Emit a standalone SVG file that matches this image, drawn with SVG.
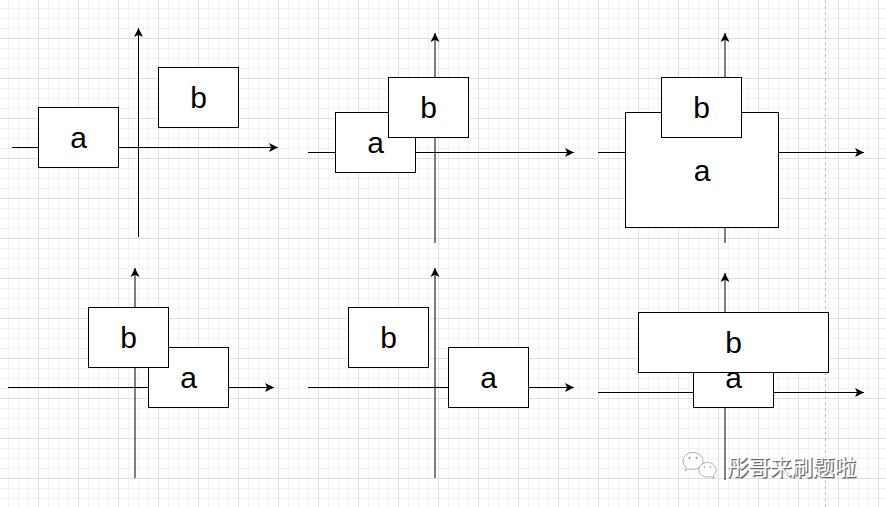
<svg xmlns="http://www.w3.org/2000/svg" width="886" height="507" viewBox="0 0 886 507">
<style>
.box{fill:#ffffff;stroke:#000000;stroke-width:1}
.lbl{font-family:"Liberation Sans",Arial,Helvetica,sans-serif;font-size:30px;fill:#000000;text-anchor:middle}
.axis{fill:none;stroke:#000000;stroke-width:1}
.arr{marker-end:url(#arrow)}
.wm{font-family:"Noto Sans CJK SC","Noto Sans",sans-serif;font-size:21.5px}
</style>
<defs>
<pattern id="grid" x="-2" y="-2" width="40" height="40" patternUnits="userSpaceOnUse">
<path d="M10.5 0V40M20.5 0V40M30.5 0V40M0 10.5H40M0 20.5H40M0 30.5H40" stroke="#f2f2f2" stroke-width="1" fill="none"/>
<path d="M0.5 0V40M0 0.5H40" stroke="#e0e0e0" stroke-width="1" fill="none"/>
</pattern>
<marker id="arrow" markerUnits="userSpaceOnUse" markerWidth="12" markerHeight="12" viewBox="-10 -6 12 12" refX="0" refY="0" orient="auto">
<path d="M0 0L-9 -4.5L-6.8 0L-9 4.5Z" fill="#000000"/>
</marker>
</defs>
<rect x="0" y="0" width="886" height="507" fill="#ffffff"/>
<rect x="0" y="0" width="886" height="507" fill="url(#grid)"/>
<line x1="825.5" y1="0" x2="825.5" y2="507" stroke="#bdbdbd" stroke-width="1" stroke-dasharray="3 3"/>
<g id="connectors">
<line class="axis arr" x1="12" y1="147.5" x2="278" y2="147.5"/>
<line class="axis arr" x1="138.5" y1="237" x2="138.5" y2="28"/>
<line class="axis arr" x1="308" y1="152.5" x2="574" y2="152.5"/>
<line class="axis arr" x1="435" y1="243" x2="435" y2="33"/>
<line class="axis arr" x1="598" y1="152.5" x2="864" y2="152.5"/>
<line class="axis arr" x1="725" y1="243" x2="725" y2="33"/>
<line class="axis arr" x1="8" y1="387.5" x2="274" y2="387.5"/>
<line class="axis arr" x1="135" y1="478" x2="135" y2="268"/>
<line class="axis arr" x1="308" y1="387.5" x2="574" y2="387.5"/>
<line class="axis arr" x1="435" y1="478" x2="435" y2="268"/>
<line class="axis arr" x1="598" y1="392.5" x2="864" y2="392.5"/>
<line class="axis arr" x1="725" y1="480" x2="725" y2="273"/>
</g>
<g id="p1-a"><rect class="box" x="38.5" y="107.5" width="80" height="60"/><text class="lbl" x="78.5" y="148">a</text></g>
<g id="p1-b"><rect class="box" x="158.5" y="67.5" width="80" height="60"/><text class="lbl" x="198.5" y="108">b</text></g>
<g id="p2-a"><rect class="box" x="335.5" y="112.5" width="80" height="60"/><text class="lbl" x="375.5" y="153">a</text></g>
<g id="p2-b"><rect class="box" x="388.5" y="77.5" width="80" height="60"/><text class="lbl" x="428.5" y="118">b</text></g>
<g id="p3-a"><rect class="box" x="625.5" y="112.5" width="153" height="115"/><text class="lbl" x="702" y="180.5">a</text></g>
<g id="p3-b"><rect class="box" x="661.5" y="77.5" width="80" height="60"/><text class="lbl" x="701.5" y="118">b</text></g>
<g id="p4-a"><rect class="box" x="148.5" y="347.5" width="80" height="60"/><text class="lbl" x="188.5" y="388">a</text></g>
<g id="p4-b"><rect class="box" x="88.5" y="307.5" width="80" height="60"/><text class="lbl" x="128.5" y="348">b</text></g>
<g id="p5-b"><rect class="box" x="348.5" y="307.5" width="80" height="60"/><text class="lbl" x="388.5" y="348">b</text></g>
<g id="p5-a"><rect class="box" x="448.5" y="347.5" width="80" height="60"/><text class="lbl" x="488.5" y="388">a</text></g>
<g id="p6-a"><rect class="box" x="693.5" y="347.5" width="80" height="60"/><text class="lbl" x="733.5" y="388">a</text></g>
<g id="p6-b"><rect class="box" x="638.5" y="312.5" width="190" height="60"/><text class="lbl" x="733.5" y="353">b</text></g>
<g id="watermark">
<path d="M693 452.5c-5.5 0-10 3.8-10 8.5c0 2.6 1.3 4.8 3.4 6.4l-1.2 3.4l4-2.1c1.2 0.4 2.5 0.6 3.8 0.6c5.5 0 10-3.8 10-8.3c0-4.7-4.5-8.5-10-8.5z" fill="#ffffff" stroke="#9a9a9a" stroke-width="0.8"/>
<path d="M707.5 462.5c-4.8 0-8.6 3.3-8.6 7.3c0 4 3.8 7.3 8.6 7.3c1.1 0 2.1-0.2 3.1-0.5l3.4 1.8l-1-2.8c1.9-1.3 3.1-3.3 3.1-5.8c0-4-3.8-7.3-8.6-7.3z" fill="#ffffff" stroke="#9a9a9a" stroke-width="0.8"/>
<circle cx="689.5" cy="458" r="0.9" fill="#8a8a8a"/>
<circle cx="696.5" cy="458" r="0.9" fill="#8a8a8a"/>
<circle cx="704.5" cy="467" r="0.8" fill="#8a8a8a"/>
<circle cx="710.5" cy="467" r="0.8" fill="#8a8a8a"/>
<text class="wm" x="728" y="476" fill="#6a6a6a" stroke="#6a6a6a" stroke-width="0.6">彤哥来刷题啦</text>
<text class="wm" x="727" y="475" fill="#ffffff">彤哥来刷题啦</text>
</g>
</svg>
